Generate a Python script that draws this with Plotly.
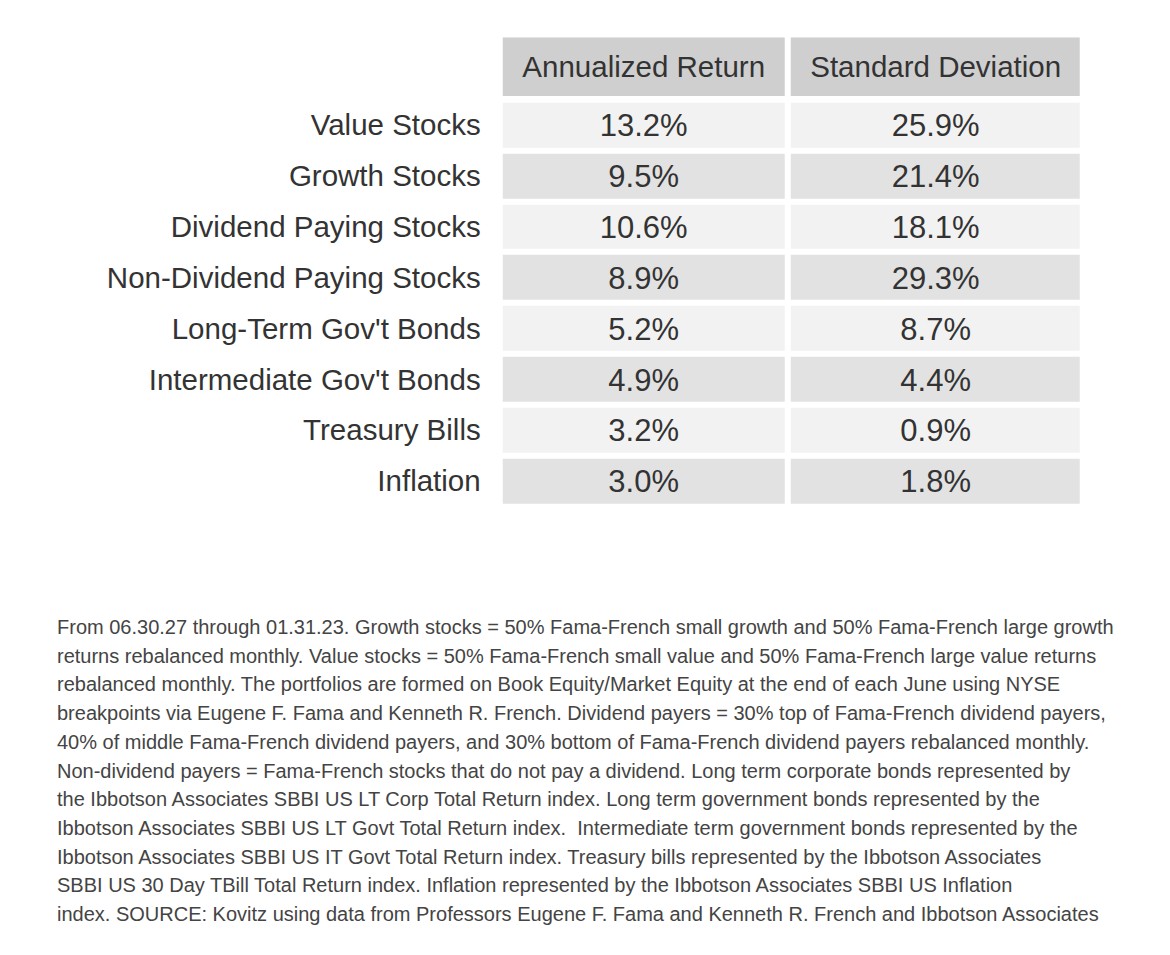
import plotly.graph_objects as go

# table contents
assets = [
    "Value Stocks",
    "Growth Stocks",
    "Dividend Paying Stocks",
    "Non-Dividend Paying Stocks",
    "Long-Term Gov't Bonds",
    "Intermediate Gov't Bonds",
    "Treasury Bills",
    "Inflation",
]
annualized_return = ["13.2%", "9.5%", "10.6%", "8.9%", "5.2%", "4.9%", "3.2%", "3.0%"]
standard_deviation = ["25.9%", "21.4%", "18.1%", "29.3%", "8.7%", "4.4%", "0.9%", "1.8%"]
column_headers = ["Annualized Return", "Standard Deviation"]

footnote_lines = [
    "From 06.30.27 through 01.31.23. Growth stocks = 50% Fama-French small growth and 50% Fama-French large growth",
    "returns rebalanced monthly. Value stocks = 50% Fama-French small value and 50% Fama-French large value returns",
    "rebalanced monthly. The portfolios are formed on Book Equity/Market Equity at the end of each June using NYSE",
    "breakpoints via Eugene F. Fama and Kenneth R. French. Dividend payers = 30% top of Fama-French dividend payers,",
    "40% of middle Fama-French dividend payers, and 30% bottom of Fama-French dividend payers rebalanced monthly.",
    "Non-dividend payers = Fama-French stocks that do not pay a dividend. Long term corporate bonds represented by",
    "the Ibbotson Associates SBBI US LT Corp Total Return index. Long term government bonds represented by the",
    "Ibbotson Associates SBBI US LT Govt Total Return index.  Intermediate term government bonds represented by the",
    "Ibbotson Associates SBBI US IT Govt Total Return index. Treasury bills represented by the Ibbotson Associates",
    "SBBI US 30 Day TBill Total Return index. Inflation represented by the Ibbotson Associates SBBI US Inflation",
    "index. SOURCE: Kovitz using data from Professors Eugene F. Fama and Kenneth R. French and Ibbotson Associates",
]

# page has an 8px body margin, so the figure sits at (8, 8)
W, H = 1154, 939
OFF = 8
FONT = "Liberation Sans, Arial, sans-serif"
TEXT = "#333333"
HEAD_FILL = "#cfcfcf"
LIGHT = "#f2f2f2"
DARK = "#e2e2e2"
COL_W = [288, 295]


def px_x(p):
    return (p - OFF) / W


def px_y(p):
    return 1 - (p - OFF) / H


x_edges = [0, COL_W[0], COL_W[0] + COL_W[1]]
scale = [[0, LIGHT], [0.5, DARK], [1, HEAD_FILL]]

body_z = [[i % 2, i % 2] for i in range(len(assets))]
body_text = [[a, s] for a, s in zip(annualized_return, standard_deviation)]

fig = go.Figure()
fig.add_trace(go.Heatmap(
    x=x_edges, y=assets, z=body_z, text=body_text,
    texttemplate="%{text}",
    textfont=dict(family=FONT, size=31, color=TEXT),
    colorscale=scale, zmin=0, zmax=2, showscale=False,
    xgap=6, ygap=6, hoverinfo="skip",
))
fig.add_trace(go.Heatmap(
    x=x_edges, y=["header"], z=[[2, 2]], text=[column_headers],
    texttemplate="%{text}",
    textfont=dict(family=FONT, size=29.5, color=TEXT),
    colorscale=scale, zmin=0, zmax=2, showscale=False,
    xgap=6, ygap=0, hoverinfo="skip", yaxis="y2",
))

# footnote, one annotation per line for the wide line spacing
line_step = 28.7
for i, line in enumerate(footnote_lines):
    fig.add_annotation(
        x=px_x(55), y=px_y(627 + i * line_step),
        xref="paper", yref="paper",
        xanchor="left", yanchor="middle",
        text=line, showarrow=False,
        font=dict(family=FONT, size=20, color="#444444"),
    )

fig.update_layout(
    width=W, height=H,
    margin=dict(l=0, r=0, t=0, b=0),
    paper_bgcolor="white",
    plot_bgcolor="white",
    xaxis=dict(
        domain=[px_x(499.7), px_x(1083)], range=[0, x_edges[-1]],
        showticklabels=False, showgrid=False, zeroline=False, fixedrange=True,
    ),
    yaxis=dict(
        domain=[px_y(506.3), px_y(99.7)], autorange="reversed",
        showgrid=False, zeroline=False, ticks="", ticklabelstandoff=18,
        tickfont=dict(family=FONT, size=29.5, color=TEXT), fixedrange=True,
    ),
    yaxis2=dict(
        domain=[px_y(96), px_y(37.3)], showticklabels=False,
        showgrid=False, zeroline=False, fixedrange=True,
    ),
)
fig.write_html("out.html")
